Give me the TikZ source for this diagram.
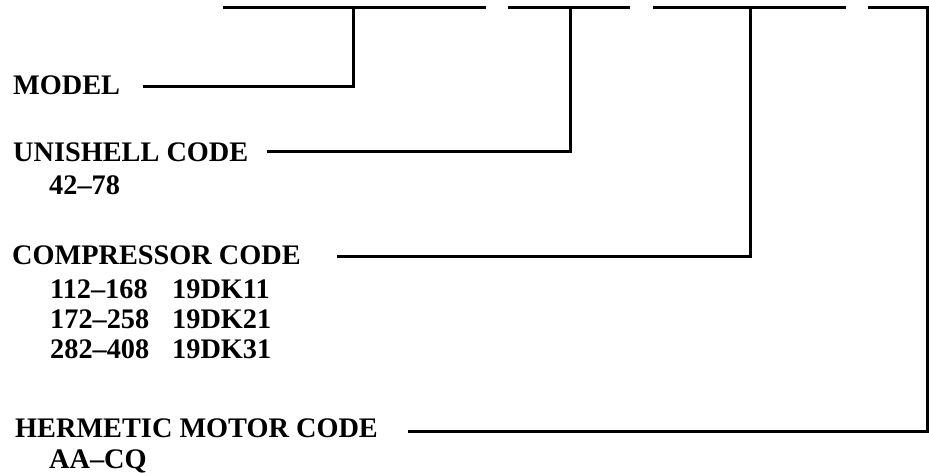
\documentclass[tikz,border=0pt]{standalone}
\usepackage{fontspec}
\setmainfont{Liberation Serif}
\begin{document}
\begin{tikzpicture}[x=1pt,y=-1pt,
  lbl/.style={anchor=base west,inner sep=0pt,font=\fontsize{28.3}{31}\selectfont\bfseries},
  ln/.style={line width=3pt,line join=miter,line cap=butt}]
\useasboundingbox (0,0) rectangle (929,473);
% labels
\node[lbl] (model) at (13,95) {MODEL};
\node[lbl] (uni) at (13,162) {UNISHELL CODE};
\node[lbl] (unir) at (49,195) {42–78};
\node[lbl] (comp) at (12,265) {COMPRESSOR CODE};
\node[lbl] (c1a) at (50,298) {112–168};
\node[lbl] (c1b) at (172,298) {19DK11};
\node[lbl] (c2a) at (50,328) {172–258};
\node[lbl] (c2b) at (172,328) {19DK21};
\node[lbl] (c3a) at (50,358) {282–408};
\node[lbl] (c3b) at (172,358) {19DK31};
\node[lbl] (herm) at (15,437) {HERMETIC MOTOR CODE};
\node[lbl] (hermr) at (49,468) {AA–CQ};
% top dashes
\coordinate (s1a) at (223,8); \coordinate (s1b) at (486,8);
\coordinate (s2a) at (508,8); \coordinate (s2b) at (630,8);
\coordinate (s3a) at (653,8); \coordinate (s3b) at (846,8);
\coordinate (s4a) at (868,8);
\coordinate (tm) at (353,8);
\coordinate (tu) at (570,8);
\coordinate (tc) at (750,8);
\coordinate (th) at (927,8);
\draw[ln] (s1a) -- (s1b);
\draw[ln] (s2a) -- (s2b);
\draw[ln] (s3a) -- (s3b);
% leader starts
\coordinate (lm) at (143,87);
\coordinate (lu) at (267,152);
\coordinate (lc) at (337,256);
\coordinate (lh) at (408,431);
\draw[ln] (lm) -| (tm);
\draw[ln] (lu) -| (tu);
\draw[ln] (lc) -| (tc);
\draw[ln] (lh) -| (th) -- (s4a);
\end{tikzpicture}
\end{document}
